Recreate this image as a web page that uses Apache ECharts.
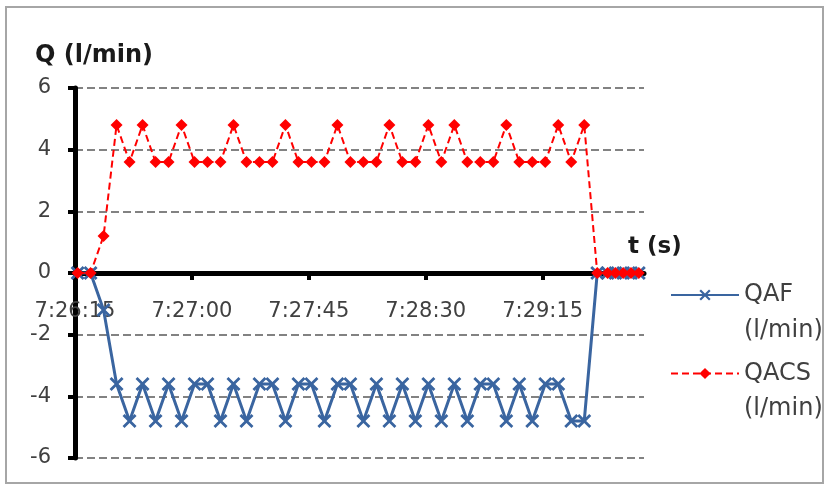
<!DOCTYPE html>
<html>
<head>
<meta charset="utf-8">
<title>QAF / QACS</title>
<script src="https://cdn.jsdelivr.net/npm/echarts@6/dist/echarts.min.js"></script>
<style>
  html, body { margin: 0; padding: 0; background: #fff; }
  #chart { width: 830px; height: 490px; }
</style>
</head>
<body>
<div id="chart"></div>
<script>
// sample times (h:mm:ss)
const times = [
  '7:26:16', '7:26:21', '7:26:26', '7:26:31', '7:26:36', '7:26:41', '7:26:46', '7:26:51', '7:26:56',
  '7:27:01', '7:27:06', '7:27:11', '7:27:16', '7:27:21', '7:27:26', '7:27:31', '7:27:36', '7:27:41',
  '7:27:46', '7:27:51', '7:27:56', '7:28:01', '7:28:06', '7:28:11', '7:28:16', '7:28:21', '7:28:26',
  '7:28:31', '7:28:36', '7:28:41', '7:28:46', '7:28:51', '7:28:56', '7:29:01', '7:29:06', '7:29:11',
  '7:29:16', '7:29:21', '7:29:26', '7:29:31', '7:29:36', '7:29:40', '7:29:43', '7:29:46', '7:29:49',
  '7:29:52'
]
const qaf = [
  0, 0, -1.2, -3.6, -4.8, -3.6, -4.8, -3.6, -4.8,
  -3.6, -3.6, -4.8, -3.6, -4.8, -3.6, -3.6, -4.8, -3.6,
  -3.6, -4.8, -3.6, -3.6, -4.8, -3.6, -4.8, -3.6, -4.8,
  -3.6, -4.8, -3.6, -4.8, -3.6, -3.6, -4.8, -3.6, -4.8,
  -3.6, -3.6, -4.8, -4.8, 0, 0, 0, 0, 0,
  0
]
const qacs = [
  0, 0, 1.2, 4.8, 3.6, 4.8, 3.6, 3.6, 4.8,
  3.6, 3.6, 3.6, 4.8, 3.6, 3.6, 3.6, 4.8, 3.6,
  3.6, 3.6, 4.8, 3.6, 3.6, 3.6, 4.8, 3.6, 3.6,
  4.8, 3.6, 4.8, 3.6, 3.6, 3.6, 4.8, 3.6, 3.6,
  3.6, 4.8, 3.6, 4.8, 0, 0, 0, 0, 0,
  0
]
const xTickLabels = ['7:26:15', '7:27:00', '7:27:45', '7:28:30', '7:29:15']
const xStart = '7:26:15'
const xEnd = '7:29:54'
const yMin = -6
const yMax = 6

const FONT = 'DejaVu Sans'
const gridTop = 88
const gridBottom = 32
const gridHeight = 490 - gridTop - gridBottom

function toSec(s){
  const p = s.split(':').map(Number)
  return p[0] * 3600 + p[1] * 60 + p[2]
}

const xTickSecs = xTickLabels.map(toSec)
const qafData = times.map((t, i) => [toSec(t), qaf[i]])
const qacsData = times.map((t, i) => [toSec(t), qacs[i]])

// thin "x" marker
const crossSymbol = 'path://M0,1.4L1.4,0L5,3.6L8.6,0L10,1.4L6.4,5L10,8.6L8.6,10L5,6.4L1.4,10L0,8.6L3.6,5Z'

// legend label: blank first line so the icon lines up with the series name
const legendLabel = name => '\n' + name + '\n(l/min)'

const chart = echarts.init(document.getElementById('chart'))
chart.setOption({
  animation: false,
  title: [
    {
      text: 'Q (l/min)',
      left: 35, top: 44, padding: 0,
      textStyle: { fontFamily: FONT, fontSize: 24, fontWeight: 'bold', color: '#1a1a1a' }
    },
    {
      text: 't (s)',
      left: 628, top: 236, padding: 0,
      textStyle: { fontFamily: FONT, fontSize: 23, fontWeight: 'bold', color: '#1a1a1a' }
    }
  ],
  graphic: [
    {
      type: 'rect',
      shape: { x: 6, y: 7, width: 817, height: 476 },
      style: { fill: 'none', stroke: '#a6a6a6', lineWidth: 2 },
      silent: true
    }
  ],
  legend: [
    {
      data: ['QAF'],
      left: 670, top: 241, padding: 0,
      itemWidth: 68, itemHeight: 14,
      formatter: legendLabel,
      textStyle: { fontFamily: FONT, fontSize: 24, lineHeight: 36, color: '#404040' }
    },
    {
      data: ['QACS'],
      left: 670, top: 321, padding: 0,
      itemWidth: 68, itemHeight: 14,
      formatter: legendLabel,
      textStyle: { fontFamily: FONT, fontSize: 24, lineHeight: 35, color: '#404040' }
    }
  ],
  grid: { left: 75, right: 186, top: gridTop, bottom: gridBottom, outerBoundsMode: 'none' },
  xAxis: {
    type: 'value',
    min: toSec(xStart),
    max: toSec(xEnd),
    position: 'bottom',
    // axis sits on y = 0
    offset: -gridHeight * (0 - yMin) / (yMax - yMin),
    axisLine: { show: true, onZero: false, lineStyle: { color: '#000', width: 5 } },
    axisTick: { show: true, customValues: xTickSecs, length: 7, lineStyle: { color: '#000', width: 4 } },
    axisLabel: {
      customValues: xTickSecs,
      margin: 28,
      fontFamily: FONT, fontSize: 21, color: '#404040',
      formatter: v => xTickLabels[xTickSecs.indexOf(v)] || ''
    },
    splitLine: { show: false }
  },
  yAxis: {
    type: 'value',
    min: yMin, max: yMax, interval: 2,
    axisLine: { show: true, lineStyle: { color: '#000', width: 5 } },
    axisTick: { show: true, length: 7, lineStyle: { color: '#000', width: 4 } },
    axisLabel: { margin: 24, fontFamily: FONT, fontSize: 21, color: '#404040' },
    splitLine: { show: true, lineStyle: { color: '#595959', width: 1.5, type: [8, 4] } }
  },
  series: [
    {
      name: 'QAF',
      type: 'line',
      data: qafData,
      symbol: crossSymbol,
      symbolSize: 14,
      lineStyle: { color: '#3a65a0', width: 3 },
      itemStyle: { color: '#3a65a0' }
    },
    {
      name: 'QACS',
      type: 'line',
      data: qacsData,
      symbol: 'diamond',
      symbolSize: 12,
      lineStyle: { color: '#ff0000', width: 2, type: [7, 4] },
      itemStyle: { color: '#ff0000' }
    }
  ]
})
</script>
</body>
</html>
